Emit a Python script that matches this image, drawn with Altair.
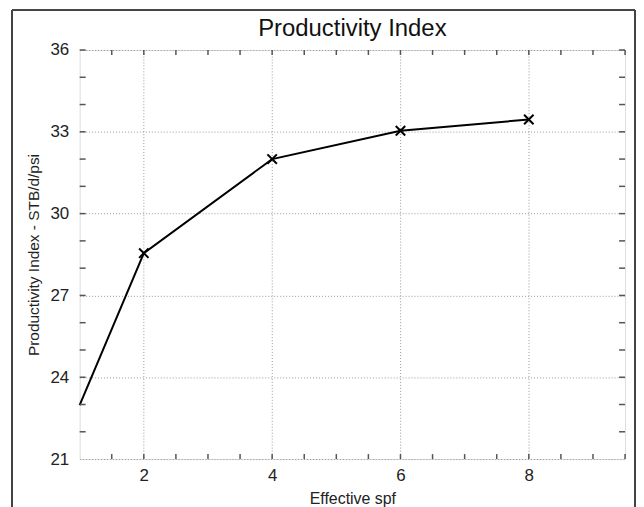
import altair as alt
import pandas as pd

# Data
spf = [1, 2, 4, 6, 8]
pi_values = [22.98, 28.55, 32.0, 33.04, 33.45]

x_major = [2, 4, 6, 8]
y_major = [21, 24, 27, 30, 33, 36]
x_minor = [1.5, 2, 2.5, 3, 3.5, 4, 4.5, 5, 5.5, 6, 6.5, 7, 7.5, 8, 8.5, 9, 9.5]
y_minor = [22, 23, 24, 25, 26, 27, 28, 29, 30, 31, 32, 33, 34, 35, 36]
title_text = ["Productivity Index"]

W, H = 548, 411
FONT = "Liberation Sans"

df = pd.DataFrame({"spf": spf, "pi": pi_values})
df_mark = df[df["spf"] > 1]
dfx = pd.DataFrame({"t": x_minor})
dfy = pd.DataFrame({"t": y_minor})
dft = pd.DataFrame({"label": title_text})

xs = alt.Scale(domain=[1, 9.5], nice=False, zero=False)
ys = alt.Scale(domain=[21, 36], nice=False, zero=False)

x_axis = alt.Axis(values=x_major, title="Effective spf", grid=True,
                  gridDash=[1, 2], gridColor="#999999", gridWidth=1,
                  ticks=False, domain=False, labelPadding=9,
                  labelFontSize=17, labelFont=FONT, labelColor="#222222",
                  titleFontSize=16, titleFont=FONT, titleFontWeight="normal",
                  titleColor="#222222", titlePadding=7)
y_axis = alt.Axis(values=y_major, title="Productivity Index - STB/d/psi",
                  grid=True, gridDash=[1, 2], gridColor="#999999", gridWidth=1,
                  ticks=False, domain=False, labelPadding=11,
                  labelFontSize=17, labelFont=FONT, labelColor="#222222",
                  titleFontSize=15.5, titleFont=FONT, titleFontWeight="normal",
                  titleColor="#222222", titlePadding=8)

line = alt.Chart(df).mark_line(color="black", strokeWidth=2).encode(
    x=alt.X("spf:Q", scale=xs, axis=x_axis),
    y=alt.Y("pi:Q", scale=ys, axis=y_axis),
)

marks = alt.Chart(df_mark).mark_point(
    shape="M-1,-1L1,1M-1,1L1,-1", size=90, filled=False, color="black",
    strokeWidth=2, opacity=1
).encode(
    x=alt.X("spf:Q", scale=xs, axis=x_axis),
    y=alt.Y("pi:Q", scale=ys, axis=y_axis),
)

tick_style = dict(color="#555555", strokeWidth=1.5)
tb = alt.Chart(dfx).mark_rule(**tick_style).encode(
    x=alt.X("t:Q", scale=xs, axis=x_axis), y=alt.value(H), y2=alt.value(H - 5))
tt = alt.Chart(dfx).mark_rule(**tick_style).encode(
    x=alt.X("t:Q", scale=xs, axis=x_axis), y=alt.value(0), y2=alt.value(5))
tl = alt.Chart(dfy).mark_rule(**tick_style).encode(
    y=alt.Y("t:Q", scale=ys, axis=y_axis), x=alt.value(0), x2=alt.value(6))
tr = alt.Chart(dfy).mark_rule(**tick_style).encode(
    y=alt.Y("t:Q", scale=ys, axis=y_axis), x=alt.value(W), x2=alt.value(W - 6))

# chart title as a text mark so it sits inside the figure frame
title = alt.Chart(dft).mark_text(
    font=FONT, fontSize=24, color="#111111", baseline="alphabetic", align="center"
).encode(text="label:N", x=alt.value(W / 2), y=alt.value(-14))

# outer figure frame (decorative)
frame_style = dict(color="#444444", strokeWidth=1.5)
fl = alt.Chart(df).mark_rule(**frame_style).encode(
    x=alt.value(-68), y=alt.value(-40), y2=alt.value(H + 50))
fr = alt.Chart(df).mark_rule(**frame_style).encode(
    x=alt.value(W + 10), y=alt.value(-40), y2=alt.value(H + 50))
ft = alt.Chart(df).mark_rule(**frame_style).encode(
    x=alt.value(-68), x2=alt.value(W + 10), y=alt.value(-40))

chart = alt.layer(line, marks, tb, tt, tl, tr, title, fl, fr, ft).properties(
    width=W, height=H,
    padding={"left": 3, "top": 0, "right": 0, "bottom": 0},
).configure_view(
    stroke="#666666", strokeWidth=1.5
).configure(background="white")

chart.save("out.html", embed_options={"renderer": "svg", "actions": False})
